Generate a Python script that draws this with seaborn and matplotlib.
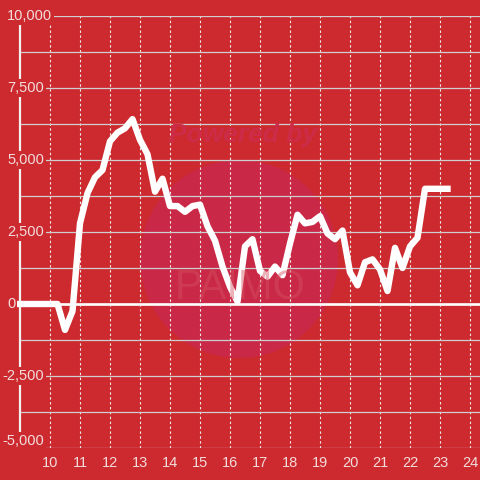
import numpy as np
import pandas as pd
import matplotlib
matplotlib.use("Agg")
import matplotlib.pyplot as plt
import matplotlib.transforms as mtransforms
from matplotlib.patches import Circle
import seaborn as sns

# ---- data ----
hours = [9.0, 9.25, 9.5, 9.75, 10.0, 10.25, 10.5, 10.75,
         11.0, 11.25, 11.5, 11.75, 12.0, 12.25, 12.5, 12.75,
         13.0, 13.25, 13.5, 13.75, 14.0, 14.25, 14.5, 14.75,
         15.0, 15.25, 15.5, 15.75, 16.0, 16.25, 16.5, 16.75,
         17.0, 17.25, 17.5, 17.75, 18.0, 18.25, 18.5, 18.75,
         19.0, 19.25, 19.5, 19.75, 20.0, 20.25, 20.5, 20.75,
         21.0, 21.25, 21.5, 21.75, 22.0, 22.25, 22.5, 22.75,
         23.0, 23.25]
values = [0, 0, 0, 0, 0, 0, -900, -250,
          2800, 3850, 4400, 4650, 5650, 5950, 6100, 6420,
          5700, 5200, 3900, 4350, 3400, 3400, 3200, 3400,
          3450, 2700, 2200, 1300, 600, 80, 2000, 2250,
          1150, 950, 1300, 1000, 2100, 3100, 2800, 2850,
          3050, 2450, 2250, 2550, 1100, 650, 1450, 1550,
          1200, 450, 1950, 1250, 2000, 2300, 4000, 4000,
          4000, 4000]
x_ticks = [10, 11, 12, 13, 14, 15, 16, 17, 18, 19, 20, 21, 22, 23, 24]
y_ticks = [10000, 7500, 5000, 2500, 0, -2500, -5000]
y_tick_labels = ["10,000", "7,500", "5,000", "2,500", "0", "-2,500", "-5,000"]
y_minor = [8750, 6250, 3750, 1250, -1250, -3750]

df = pd.DataFrame({"hour": hours, "value": values})

BG = "#CC2A2F"
TXT = "#F3DCDC"

sns.set_style("white")
plt.rcParams["font.family"] = ["Liberation Sans", "DejaVu Sans"]

W = 480.0
fig = plt.figure(figsize=(4.8, 4.8), dpi=100, facecolor=BG)
ax = fig.add_axes([20 / W, 32 / W, 460 / W, 432 / W])
ax.set_facecolor("none")

# watermark
ax.add_patch(Circle((239 / W, 1 - 259 / W), 99 / W, transform=fig.transFigure,
                    facecolor="#C92846", edgecolor="none", zorder=0.1, clip_on=False))
fig.text(243 / W, 1 - 135 / W, "Powered by", color="#CD2C48", fontsize=19,
         fontweight="bold", style="italic", ha="center", va="center", zorder=0.2)
fig.text(240 / W, 1 - 288 / W, "PAIMO", color="#D65060", fontsize=30,
         ha="center", va="center", zorder=0.2, fontweight="light", alpha=0.45)

ax.set_xlim(9.0, 9.0 + 460 / 30)
ax.set_ylim(-5000, 10000)

# grid
ax.set_xticks(x_ticks)
ax.set_xticklabels([str(t) for t in x_ticks])
ax.set_yticks(sorted(y_ticks + y_minor))
ax.set_yticklabels([])
ax.grid(False)
ax.yaxis.grid(True, color="#CFCFCF", linewidth=0.9)
ax.xaxis.grid(True, color="#F0E6E6", linewidth=0.8, linestyle=(0, (2.2, 2.2)))
ax.set_axisbelow(True)
ax.tick_params(axis="both", length=0)
ax.tick_params(axis="x", colors=TXT, labelsize=10.5, pad=6)

for s in ["top", "right", "bottom"]:
    ax.spines[s].set_visible(False)
ax.spines["left"].set_color("#F2F2F2")
ax.spines["left"].set_linewidth(1.6)
ax.spines["left"].set_zorder(0.6)

# zero baseline
ax.axhline(0, color="white", linewidth=1.9, zorder=2)

# data line
sns.lineplot(data=df, x="hour", y="value", ax=ax, color="white",
             linewidth=4.6, zorder=3, legend=False)
for ln in ax.lines[-1:]:
    ln.set_solid_capstyle("projecting")
    ln.set_solid_joinstyle("round")
    ln.set_clip_on(False)

# y tick labels (left-aligned, with background boxes over the axis line)
trans = mtransforms.blended_transform_factory(fig.transFigure, ax.transData)
for v, lab in zip(y_ticks, y_tick_labels):
    xpos = (2 if v < 0 else 7) / W
    va = "bottom" if v == min(y_ticks) else "center"
    ax.text(xpos, v, lab, transform=trans, ha="left", va=va, color=TXT,
            fontsize=10.5, zorder=4, clip_on=False,
            bbox=dict(boxstyle="square,pad=0.15", fc=BG, ec="none"))

ax.set_xlabel("")
ax.set_ylabel("")

fig.savefig("out.png", dpi=100, facecolor=BG)
